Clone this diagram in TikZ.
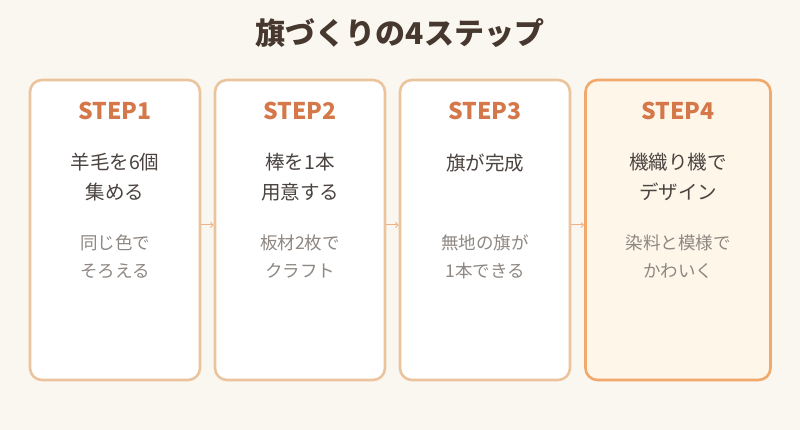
\documentclass[tikz,border=0pt]{standalone}
\usepackage{fontspec}
\setmainfont{Noto Sans CJK JP}
\usepackage{tikz}
\usetikzlibrary{positioning,arrows.meta}
\definecolor{cBg}{HTML}{FAF6F0}
\definecolor{cEdge}{HTML}{EBC49E}
\definecolor{cEdgeHi}{HTML}{F0A96A}
\definecolor{cFillHi}{HTML}{FFF6EA}
\definecolor{cStep}{HTML}{D4784A}
\definecolor{cMain}{HTML}{4A4340}
\definecolor{cSub}{HTML}{8E8782}
\definecolor{cTitle}{HTML}{46382F}
\definecolor{cArr}{HTML}{F0B284}
\tikzset{
  card/.style={draw=cEdge,fill=white,line width=2.6pt,rounded corners=12pt,minimum height=300pt,inner sep=0pt},
  cardhi/.style={card,draw=cEdgeHi,fill=cFillHi},
  steplbl/.style={font=\fontsize{23}{26}\selectfont\bfseries,text=cStep},
  mainlbl/.style={font=\fontsize{19.5}{30}\selectfont,text=cMain,align=center},
  sublbl/.style={font=\fontsize{17.5}{28}\selectfont,text=cSub,align=center},
  arr/.style={-{Straight Barb[length=2.5pt,width=5pt]},line width=1pt,draw=cArr}}
\begin{document}
\begin{tikzpicture}[x=1pt,y=-1pt]
\fill[cBg] (0,0) rectangle (800,430);
\useasboundingbox (0,0) rectangle (800,430);
\node[font=\fontsize{30}{33}\selectfont\bfseries,text=cTitle] (title) at (400,33) {旗づくりの4ステップ};
\foreach \k/\cx/\w/\sty/\main/\sub in {
  1/115/170/card/{羊毛を6個\\集める}/{同じ色で\\そろえる},
  2/300/170/card/{棒を1本\\用意する}/{板材2枚で\\クラフト},
  3/485/170/card/{旗が完成}/{無地の旗が\\1本できる},
  4/678/185/cardhi/{機織り機で\\デザイン}/{染料と模様で\\かわいく}}{
  \node[\sty,minimum width=\w pt] (c\k) at (\cx,230) {};
  \node[steplbl] (s\k) at (\cx,111) {STEP\k};
  \node[mainlbl,anchor=north] (m\k) at (\cx,150) {\main};
  \node[sublbl,anchor=north] (n\k) at (\cx,231) {\sub};
}
\foreach \a/\b in {1/2,2/3,3/4}
  \draw[arr] ([yshift=5pt]c\a.east) -- ([yshift=5pt]c\b.west);
\end{tikzpicture}
\end{document}
